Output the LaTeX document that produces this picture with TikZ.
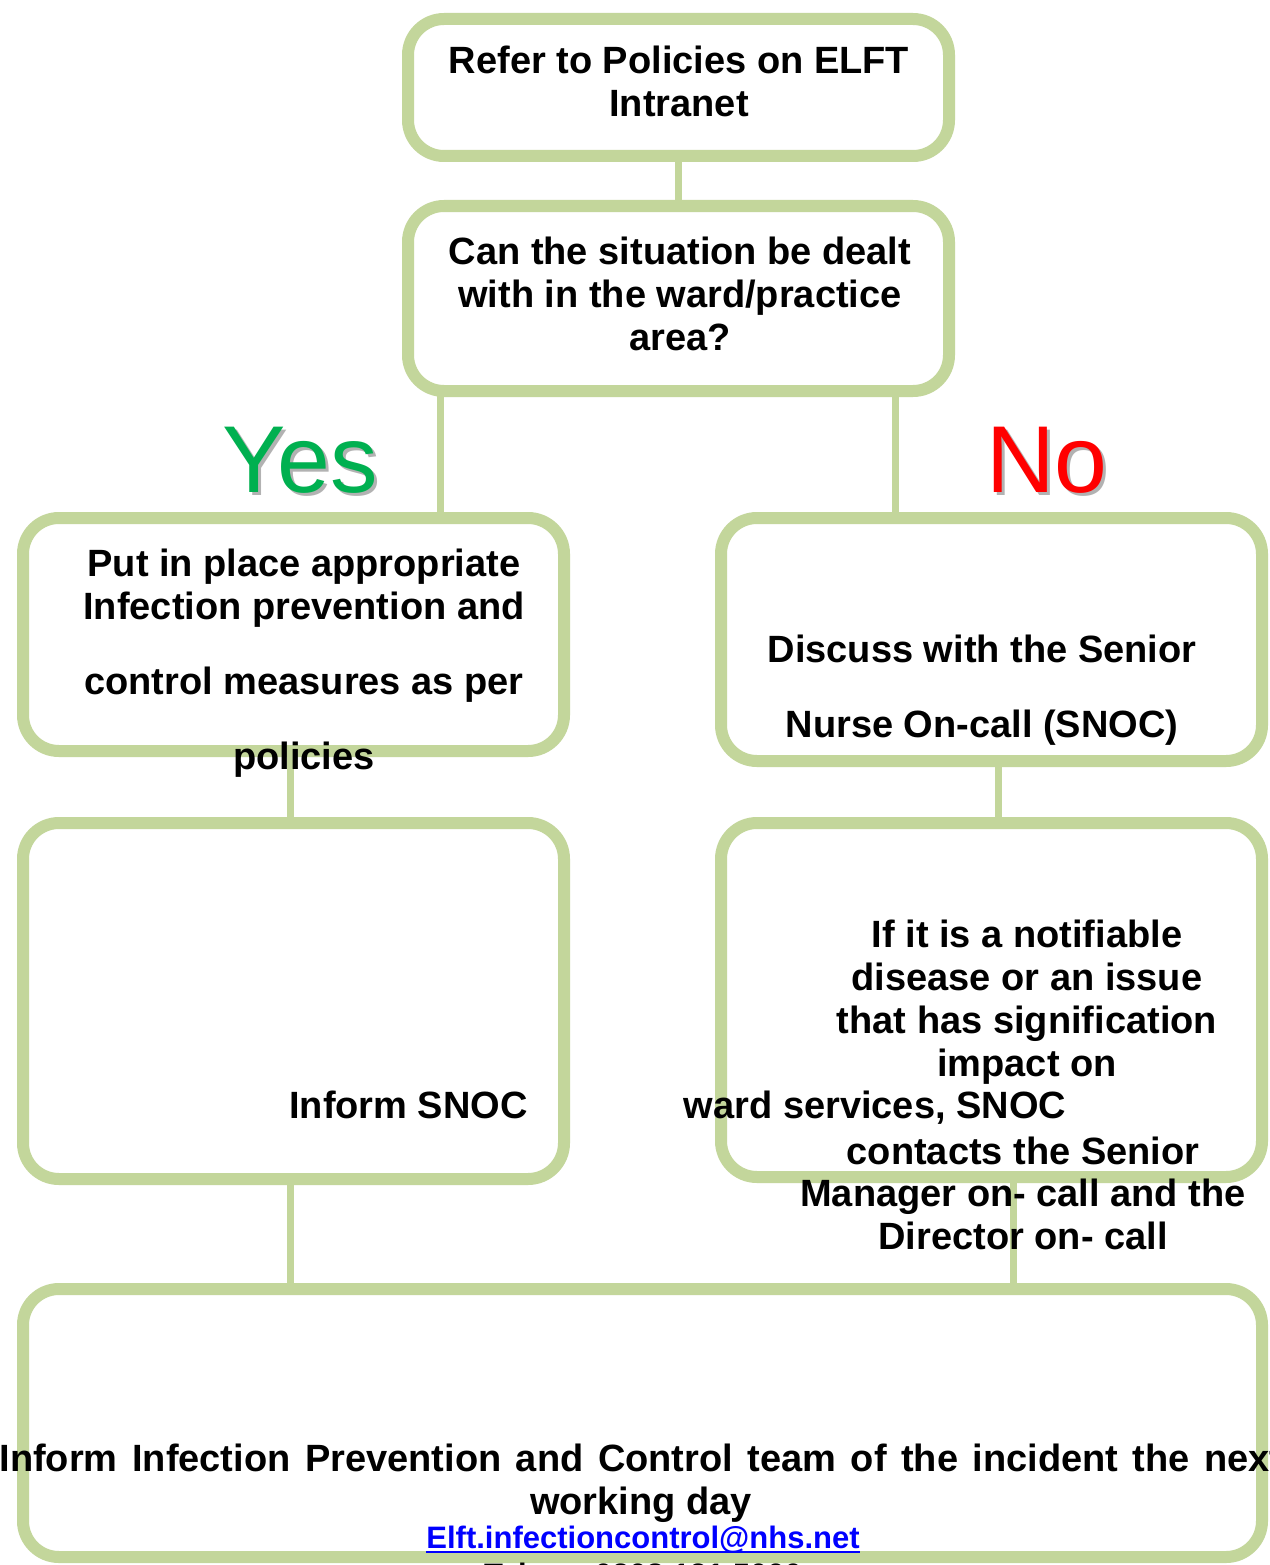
\documentclass[tikz,border=0pt]{standalone}
\usepackage{fontspec}
\setmainfont{Liberation Sans}
\definecolor{leaf}{HTML}{C3D69B}
\definecolor{yesgreen}{HTML}{00B050}
\definecolor{nored}{HTML}{FF0000}
\definecolor{mailblue}{HTML}{0000FF}

\begin{document}
\begin{tikzpicture}[x=1pt, y=-1pt,
    box/.style = {draw=leaf, line width=12pt, rounded corners=36pt,
      fill=white, inner sep=0pt, outer sep=0pt},
    link/.style = {draw=leaf, line width=7pt},
    txt/.style = {font=\bfseries\fontsize{38}{43}\selectfont,
      align=center, inner sep=0pt, anchor=base},
    yesno/.style = {font=\fontsize{95}{100}\selectfont, inner sep=0pt, anchor=base}]
  \useasboundingbox (0,0) rectangle (1269,1565);
  \clip (0,0) rectangle (1269,1565);
  \fill[white] (0,0) rectangle (1269,1565);

  \node[box, minimum width=541pt, minimum height=137pt] (refer) at (678.5,87.5) {};
  \node[box, minimum width=541pt, minimum height=185pt] (situation) at (678.5,298.5) {};
  \node[box, minimum width=541pt, minimum height=233pt] (measures) at (293.5,634.5) {};
  \node[box, minimum width=541pt, minimum height=243pt] (discuss) at (991.5,639.5) {};
  \node[box, minimum width=541pt, minimum height=356pt] (inform) at (293.5,1001) {};
  \node[box, minimum width=541pt, minimum height=354pt] (notify) at (991.5,1000) {};
  \node[box, minimum width=1239pt, minimum height=268pt] (ipc) at (642.5,1423) {};

  \draw[link] (refer.south) -- (situation.north);
  \draw[link] ([xshift=-238.5pt]situation.south) -- ([xshift=-238.5pt]situation.south |- measures.north);
  \draw[link] ([xshift=216.5pt]situation.south) -- ([xshift=216.5pt]situation.south |- discuss.north);
  \draw[link] ([xshift=-3.5pt]measures.south) -- ([xshift=-3.5pt]measures.south |- inform.north);
  \draw[link] ([xshift=6.5pt]discuss.south) -- ([xshift=6.5pt]discuss.south |- notify.north);
  \draw[link] ([xshift=-3.5pt]inform.south) -- ([xshift=-3.5pt]inform.south |- ipc.north);
  \draw[link] ([xshift=21.5pt]notify.south) -- ([xshift=21.5pt]notify.south |- ipc.north);

  \node[yesno, text=black!30] (yesshade) at (303,495) {Yes};
  \node[yesno, text=yesgreen] (yes) at (300,492) {Yes};
  \node[yesno, text=black!30] (noshade) at (1050,495) {No};
  \node[yesno, text=nored] (no) at (1047,492) {No};

  \node[txt] (trefer) at (679,117) {Refer to Policies on ELFT\\Intranet};
  \node[txt] (tsituation) at (680,350) {Can the situation be dealt\\with in the ward/practice\\area?};
  \node[txt] (tmeasures) at (304,769) {Put in place appropriate\\Infection prevention and\\[32pt]control measures as per\\[32pt]policies};
  \node[txt] (tdiscuss) at (982,737) {Discuss with the Senior\\[32pt]Nurse On-call (SNOC)};
  \node[txt, anchor=base east] (tinform) at (528,1118) {Inform SNOC};
  \node[txt] (tnotifya) at (1027,1076) {If it is a notifiable\\disease or an issue\\that has signification\\impact on};
  \node[txt] (tnotifyb) at (875,1118) {ward services, SNOC};
  \node[txt] (tnotifyc) at (1023,1249) {contacts the Senior\\[-1pt]Manager on- call and the\\Director on- call};
  \node[txt] (tipc) at (641,1514) {\spaceskip=14.5pt Inform Infection Prevention and Control team of the incident the next\\working day};
  \node[txt, font=\bfseries\fontsize{31}{36}\selectfont, text=mailblue] (tmail) at (643,1548) {Elft.infectioncontrol@nhs.net};
  \draw[mailblue, line width=2.2pt] ([yshift=-4pt]tmail.base west) -- ([yshift=-4pt]tmail.base east);
  \node[txt, font=\bfseries\fontsize{31}{36}\selectfont] (ttel) at (643,1585) {Tel no: 0208 121 5000};
\end{tikzpicture}
\end{document}
